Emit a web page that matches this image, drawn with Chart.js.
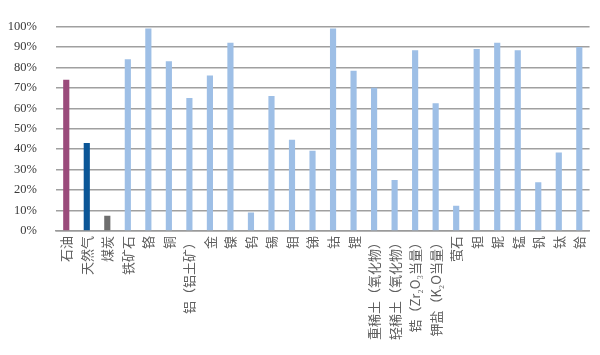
<!DOCTYPE html>
<html>
<head>
<meta charset="utf-8">
<script src="https://cdn.jsdelivr.net/npm/chart.js@4"></script>
<style>
html,body{margin:0;padding:0;background:#fff;}
#wrap{width:600px;height:355px;position:relative;}
</style>
</head>
<body>
<div id="wrap"><canvas id="c" width="600" height="355"></canvas></div>
<script>
const categories = ["石油","天然气","煤炭","铁矿石","铬","铜","铝（铝土矿）","金","镍","钨","锡","钼","锑","钴","锂","重稀土（氧化物）","轻稀土（氧化物）","锆（Zr₂O₃当量）","钾盐（K₂O当量）","萤石","钽","铌","锰","钒","钛","铪"];
const values = [74,43,7.5,84,99,83,65,76,92,9,66,44.6,39.3,99,78.4,70,25,88.4,62.5,12.3,89,92,88.4,23.8,38.4,90];
const yTicks = [0,10,20,30,40,50,60,70,80,90,100];

function barColor(i){
  if(i===0) return '#9A4B7B';
  if(i===1) return '#0B5697';
  if(i===2) return '#6E6E6E';
  return '#9EBFE6';
}

new Chart(document.getElementById('c'), {
  type: 'bar',
  data: {
    labels: categories,
    datasets: [{
      data: values,
      backgroundColor: ctx => barColor(ctx.dataIndex),
      borderWidth: 0,
      barPercentage: 0.3,
      categoryPercentage: 1
    }]
  },
  options: {
    responsive: false,
    animation: false,
    devicePixelRatio: 1,
    layout: { padding: { top: 14, right: 5, left: 0, bottom: 0 } },
    plugins: { legend: { display: false }, tooltip: { enabled: false } },
    scales: {
      x: {
        afterFit: s => { s.height = 124; },
        grid: { display: false, drawTicks: false },
        border: { display: true, color: '#9a9a9a', width: 1.5 },
        ticks: {
          autoSkip: false,
          maxRotation: 90,
          minRotation: 90,
          padding: 5,
          color: '#5e5e5e',
          font: { family: '"Noto Sans CJK SC"', size: 13 }
        }
      },
      y: {
        min: 0,
        max: 100,
        afterFit: s => { s.width = 56; },
        afterBuildTicks: s => { s.ticks = yTicks.map(v => ({ value: v })); },
        grid: { color: '#a0a0a0', lineWidth: 1.5, drawTicks: false },
        border: { display: false },
        ticks: {
          padding: 19,
          color: '#3a3a3a',
          font: { family: '"Liberation Serif"', size: 12.5 },
          callback: v => v + '%'
        }
      }
    }
  }
});
</script>
</body>
</html>
